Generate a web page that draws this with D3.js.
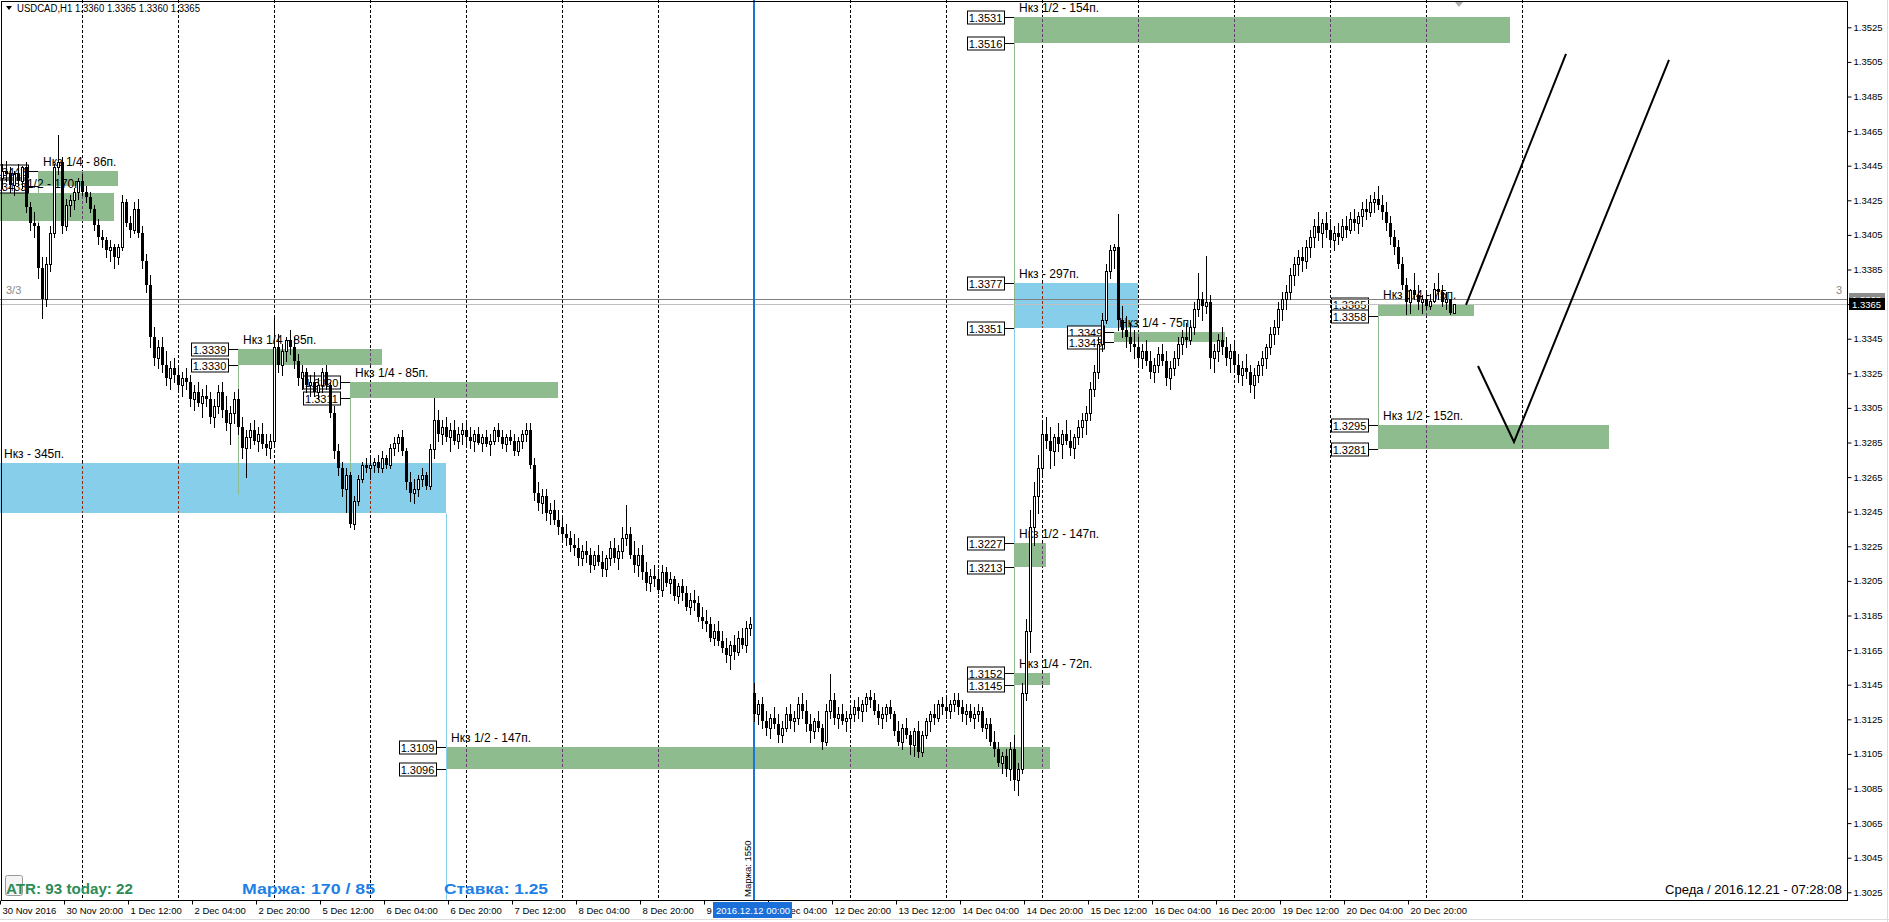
<!DOCTYPE html>
<html><head><meta charset="utf-8">
<script src="https://cdn.jsdelivr.net/npm/d3@7/dist/d3.min.js"></script>
<style>
body{margin:0;background:#fff;overflow:hidden}
svg{display:block}
text{font-family:"Liberation Sans",Arial,sans-serif}
</style></head>
<body><svg id="c" width="1889" height="922"></svg>
<script>
// ---------------- DATA ----------------
// hourly candles, USDCAD H1, values are pips above 1.3000: [open, high, low, close]
const day30Nov = [[438,446,432,442],[442,448,436,440],[440,444,430,434],[434,442,428,440],[440,446,434,436],[436,445,432,444],[444,447,418,421],[421,424,408,412],[412,418,404,410],[410,412,380,386],[386,392,357,368],[368,392,364,388],[388,410,384,406],[406,446,404,444],[444,463,440,447],[447,450,406,410],[410,426,408,422],[422,428,416,425],[425,432,420,430],[430,438,426,436]];
const day01Dec = [[436,440,428,430],[430,433,424,427],[427,430,418,420],[420,422,408,411],[411,414,400,404],[404,408,398,402],[402,404,392,396],[396,402,390,398],[398,400,386,392],[392,400,388,398],[398,428,396,424],[424,426,410,412],[412,416,404,408],[408,424,406,420],[420,426,404,406],[406,410,386,390],[390,394,372,376],[376,382,340,346],[346,352,330,334],[334,344,328,340],[340,346,326,330],[330,338,318,322],[322,332,316,328],[328,334,320,324]];
const day02Dec = [[324,330,314,318],[318,326,312,322],[322,328,316,320],[320,324,306,310],[310,318,304,314],[314,320,306,308],[308,316,300,312],[312,318,306,310],[310,314,296,300],[300,310,294,306],[306,318,302,314],[314,320,300,304],[304,312,292,296],[296,306,284,302],[302,314,296,310],[310,316,290,294],[294,300,276,282],[282,292,265,288],[288,296,282,292],[292,298,284,286],[286,294,280,290],[290,296,282,284],[284,290,278,282],[282,290,276,286]];
const day05Dec = [[286,357,284,340],[340,348,326,330],[330,342,324,338],[338,346,332,344],[344,350,336,340],[340,346,328,332],[332,336,318,322],[322,330,316,326],[326,328,314,318],[318,324,312,320],[320,326,312,314],[314,322,310,318],[318,328,314,326],[326,330,316,318],[318,320,300,302],[302,306,276,280],[280,284,266,270],[270,274,254,258],[258,270,245,266],[266,268,236,238],[238,254,235,251],[251,266,249,264],[264,274,262,272],[272,276,268,270]];
const day06Dec = [[270,276,264,272],[272,276,268,274],[274,278,268,270],[270,280,268,276],[276,278,270,272],[272,284,270,282],[282,288,278,285],[285,290,280,288],[288,292,278,280],[280,282,258,262],[262,268,251,256],[256,264,250,258],[258,266,254,264],[264,270,260,266],[266,268,258,260],[260,284,258,281],[281,311,276,298],[298,304,286,290],[290,298,284,294],[294,300,286,288],[288,296,280,292],[292,298,284,286],[286,294,282,290],[290,296,284,292]];
const day07Dec = [[292,296,284,288],[288,294,282,286],[286,292,280,290],[290,294,284,285],[285,290,280,288],[288,292,283,284],[284,290,278,286],[286,294,284,292],[292,296,286,288],[288,292,282,284],[284,290,280,288],[288,292,284,286],[286,290,278,280],[280,288,278,286],[286,292,282,290],[290,296,286,292],[292,296,270,272],[272,276,252,256],[256,262,246,250],[250,258,244,254],[254,258,240,244],[244,250,238,246],[246,252,238,240],[240,246,232,236]];
const day08Dec = [[236,242,228,232],[232,238,226,230],[230,234,222,226],[226,232,220,224],[224,230,214,218],[218,226,214,222],[222,228,216,220],[220,224,210,214],[214,222,212,220],[220,226,214,216],[216,222,208,212],[212,220,208,218],[218,228,214,224],[224,230,216,218],[218,226,212,222],[222,236,218,230],[230,249,226,232],[232,236,218,220],[220,228,210,214],[214,224,208,220],[220,226,206,210],[210,216,200,204],[204,212,199,208],[208,214,202,206]];
const day09Dec = [[206,212,198,200],[200,214,196,210],[210,213,202,204],[204,210,198,206],[206,208,194,196],[196,204,192,202],[202,206,194,198],[198,202,188,190],[190,198,186,194],[194,200,188,192],[192,196,182,184],[184,190,178,182],[182,188,176,180],[180,184,170,172],[172,180,168,176],[176,182,168,170],[170,176,164,166],[166,172,158,162],[162,170,154,168],[168,174,160,164],[164,176,162,172],[172,178,166,168],[168,182,164,178],[178,184,174,180]];
const day12Dec = [[140,146,124,128],[128,136,122,134],[134,138,120,124],[124,130,116,120],[120,128,114,126],[126,132,120,122],[122,128,112,116],[116,124,112,120],[120,132,118,128],[128,134,120,124],[124,130,118,126],[126,138,122,134],[134,140,126,130],[130,136,118,122],[122,128,112,118],[118,126,114,124],[124,130,118,120],[120,122,108,112],[112,134,110,130],[130,151,126,136],[136,140,122,126],[126,132,120,128],[128,134,122,124],[124,130,118,126]];
const day13Dec = [[126,132,120,128],[128,136,124,132],[132,138,126,130],[130,136,124,134],[134,140,130,138],[138,142,132,136],[136,140,128,130],[130,134,122,126],[126,132,120,128],[128,134,124,132],[132,136,126,128],[128,130,116,118],[118,124,110,112],[112,122,108,120],[120,126,114,116],[116,118,105,110],[110,120,104,118],[118,124,103,106],[106,118,104,116],[116,126,114,124],[124,130,118,128],[128,134,122,126],[126,136,124,134],[134,138,128,132]];
const day14Dec = [[132,138,126,130],[130,136,126,134],[134,140,130,136],[136,140,128,132],[132,136,124,128],[128,134,122,130],[130,134,124,126],[126,132,120,128],[128,134,124,130],[130,132,118,120],[120,126,114,122],[122,126,110,112],[112,118,104,108],[108,112,98,100],[100,106,94,104],[104,108,92,96],[96,112,90,108],[108,116,84,90],[90,100,81,96],[96,146,94,140],[140,183,136,176],[176,246,164,236],[236,262,226,254],[254,278,244,270]];
const day15Dec = [[270,296,266,290],[290,300,282,286],[286,294,270,280],[280,290,272,288],[288,296,280,284],[284,292,276,290],[290,298,284,286],[286,292,278,282],[282,290,276,288],[288,298,284,294],[294,302,288,298],[298,306,290,302],[302,320,298,316],[316,330,312,326],[326,346,322,342],[342,360,338,356],[356,388,354,384],[384,399,380,396],[396,400,386,398],[398,417,350,356],[356,364,346,350],[350,358,340,346],[346,354,338,342],[342,350,334,340]];
const day16Dec = [[340,346,330,334],[334,342,328,338],[338,344,330,332],[332,338,322,326],[326,334,320,330],[330,340,326,336],[336,342,330,332],[332,338,318,322],[322,332,316,328],[328,338,324,334],[334,346,330,342],[342,350,336,346],[346,354,340,344],[344,356,342,352],[352,366,348,362],[362,383,358,368],[368,372,356,364],[364,393,360,366],[366,370,328,334],[334,342,326,338],[338,348,332,344],[344,352,336,340],[340,346,330,334],[334,342,326,338]];
const day19Dec = [[338,344,326,330],[330,336,320,324],[324,332,318,328],[328,336,322,326],[326,330,314,318],[318,328,311,324],[324,332,320,330],[330,338,324,334],[334,342,328,340],[340,352,336,348],[348,356,342,352],[352,366,348,362],[362,372,356,368],[368,376,362,372],[372,386,368,382],[382,392,376,388],[388,396,382,392],[392,398,384,390],[390,402,386,398],[398,408,392,404],[404,414,398,410],[410,418,402,406],[406,414,398,412],[412,418,404,408]];
const day20Dec = [[408,414,398,402],[402,410,396,406],[406,412,400,404],[404,414,402,410],[410,416,404,408],[408,418,406,414],[414,420,408,412],[412,418,406,416],[416,424,410,420],[420,426,414,418],[418,428,416,424],[424,430,418,426],[426,433,420,422],[422,428,414,418],[418,424,408,412],[412,416,400,404],[404,408,394,398],[398,402,386,388],[388,392,374,376],[376,380,359,366],[366,374,360,373],[373,383,368,370],[370,376,362,366],[366,370,360,368]];
const day21Dec = [[368,372,362,364],[364,371,362,367],[367,377,366,374],[374,383,368,372],[372,376,364,366],[366,372,362,368],[368,368,359,360],[360,365,360,365]];

const xTickBars   = [0,16,32,48,64,80,96,112,128,144,160,176,192,208,224,240,256,272,288,304,320,336,352];
const xTickLabels = ["30 Nov 2016","30 Nov 20:00","1 Dec 12:00","2 Dec 04:00","2 Dec 20:00","5 Dec 12:00","6 Dec 04:00","6 Dec 20:00","7 Dec 12:00","8 Dec 04:00","8 Dec 20:00","9 Dec 12:00","12 Dec 04:00","12 Dec 20:00","13 Dec 12:00","14 Dec 04:00","14 Dec 20:00","15 Dec 12:00","16 Dec 04:00","16 Dec 20:00","19 Dec 12:00","20 Dec 04:00","20 Dec 20:00"];
const daySeparatorBars = [20,44,68,92,116,140,164,212,236,260,284,308,332,356,380];
const yTicks = [1.3025,1.3045,1.3065,1.3085,1.3105,1.3125,1.3145,1.3165,1.3185,1.3205,1.3225,1.3245,1.3265,1.3285,1.3305,1.3325,1.3345,1.3365,1.3385,1.3405,1.3425,1.3445,1.3465,1.3485,1.3505,1.3525];

// target zones: time span in bars, upper/lower price
const zoneFrom  = [9.5, -0.25, 59.5, 87.5, -0.25, 111.5, 253.5, 253.5, 278.5, 253.5, 253.5, 344.5, 344.5];
const zoneTo    = [29.5, 28.5, 95.5, 139.5, 111.5, 262.5, 377.5, 284.5, 306.25, 261.5, 262.5, 368.5, 402.25];
const zoneHigh  = [1.3442,1.3429,1.3339,1.3320,1.3273,1.3109,1.3531,1.3377,1.3349,1.3227,1.3152,1.3365,1.3295];
const zoneLow   = [1.3433,1.3413,1.3330,1.3311,1.3244,1.3096,1.3516,1.3351,1.3343,1.3213,1.3145,1.3358,1.3281];
const zoneType  = ["part","part","part","part","full","part","part","full","part","part","part","part","part"];
const zoneText  = ["Нкз 1/4 - 86п.","Нкз 1/2 - 170п.","Нкз 1/4 - 85п.","Нкз 1/4 - 85п.","Нкз - 345п.","Нкз 1/2 - 147п.","Нкз 1/2 - 154п.","Нкз - 297п.","Нкз 1/4 - 75п.","Нкз 1/2 - 147п.","Нкз 1/4 - 72п.","Нкз 1/4 - 75п.","Нкз 1/2 - 152п."];

// vertical connector lines [bar, fromPrice, toPrice, type]
const linkBar  = [9.5, 59.5, 87.5, 111.5, 253.5, 253.5, 344.5];
const linkFrom = [1.3433, 1.3330, 1.3311, 1.3244, 1.3516, 1.3351, 1.3358];
const linkTo   = [1.3400, 1.3255, 1.3250, 1.3020, 1.3096, 1.3227, 1.3281];
const linkType = ["part","part","part","full","part","full","part"];

// hand-drawn projection lines (bar, price)
const path1 = [[366.5,1.33645],[391.5,1.35096]];
const path2 = [[369.5,1.33292],[378.5,1.32853],[417.25,1.35061]];

const bid = 1.3365, ask = 1.3368;
const marginBar = 188;

// ---------------- DRAW ----------------
const candles = [].concat(day30Nov,day01Dec,day02Dec,day05Dec,day06Dec,day07Dec,day08Dec,day09Dec,day12Dec,day13Dec,day14Dec,day15Dec,day16Dec,day19Dec,day20Dec,day21Dec);
const P = v => 1.3 + v/10000;

const W = 1847, H = 900;
const x = d3.scaleLinear().domain([0,1]).range([0,4]);
const y = d3.scaleLinear().domain([1.3025,1.3525]).range([892.3,27.3]);
const svg = d3.select("#c");
svg.append("rect").attr("width",1889).attr("height",922).attr("fill","#fff");
svg.append("defs").append("clipPath").attr("id","pc").append("rect").attr("x",0).attr("y",0).attr("width",W).attr("height",H);
const plot = svg.append("g").attr("clip-path","url(#pc)");

const colors = {part:"#8FBC8F", full:"#87CEEB"};
const tint = {part:"#6a3a74", full:"#8b2c10"};
const sepX = b => Math.round(x(b)) + 2;

// day separators
daySeparatorBars.forEach(b=>{
  plot.append("line").attr("x1",sepX(b)+0.5).attr("x2",sepX(b)+0.5).attr("y1",0).attr("y2",H)
   .attr("stroke","#000").attr("stroke-dasharray","3,2");
});

// zones
zoneFrom.forEach((b0,i)=>{
  const x0 = Math.round(x(b0)), x1 = Math.round(x(zoneTo[i]));
  const y0 = Math.round(y(zoneHigh[i])), y1 = Math.round(y(zoneLow[i]));
  plot.append("rect").attr("x",x0).attr("y",y0).attr("width",x1-x0).attr("height",y1-y0).attr("fill",colors[zoneType[i]]);
  daySeparatorBars.forEach(b=>{
    const sx = sepX(b);
    if (sx>x0 && sx<x1) plot.append("line").attr("x1",sx+0.5).attr("x2",sx+0.5).attr("y1",y0).attr("y2",y1)
      .attr("stroke",tint[zoneType[i]]).attr("stroke-dasharray","3,2").attr("stroke-dashoffset",-(y0%5));
  });
});

// connectors
linkBar.forEach((b,i)=>{
  const lx = Math.round(x(b))+0.5;
  plot.append("line").attr("x1",lx).attr("x2",lx).attr("y1",y(linkFrom[i])).attr("y2",y(linkTo[i]))
   .attr("stroke",colors[linkType[i]]).attr("stroke-width",1);
});

// zone labels
zoneFrom.forEach((b0,i)=>{
  plot.append("text").attr("x",Math.round(x(b0))+5).attr("y",Math.round(y(zoneHigh[i]))-5)
   .attr("font-size",12).attr("fill","#000").text(zoneText[i]);
});

// price boxes
const fmt = d3.format(".4f");
zoneFrom.forEach((b0,i)=>{
  if (zoneType[i]==="full" && b0<0) return;
  const xr = Math.round(x(b0)) - 10;
  [zoneHigh[i], zoneLow[i]].forEach(p=>{
    const yy = Math.round(y(p))+0.5;
    plot.append("line").attr("x1",xr).attr("x2",Math.round(x(b0))).attr("y1",yy).attr("y2",yy).attr("stroke","#000");
    plot.append("rect").attr("x",xr-37+0.5).attr("y",yy-6.5).attr("width",37).attr("height",13)
      .attr("fill","#fff").attr("stroke","#000");
    plot.append("text").attr("x",xr-18.5).attr("y",yy+4).attr("text-anchor","middle")
      .attr("font-size",11).text(fmt(p));
  });
});

// ask / bid lines
plot.append("line").attr("x1",0).attr("x2",W).attr("y1",Math.round(y(ask))+0.5).attr("y2",Math.round(y(ask))+0.5).attr("stroke","#808080");
plot.append("line").attr("x1",0).attr("x2",W).attr("y1",Math.round(y(bid))+0.5).attr("y2",Math.round(y(bid))+0.5).attr("stroke","#c0c0c0");

// margin vertical line
const mx = sepX(marginBar);
plot.append("line").attr("x1",mx).attr("x2",mx).attr("y1",0).attr("y2",H).attr("stroke","#1c74d6").attr("stroke-width",2);
plot.append("text").attr("transform",`translate(${mx-3},897) rotate(-90)`).attr("font-size",9.5).text("Маржа: 1550");

// candles
const cg = plot.append("g").attr("shape-rendering","crispEdges");
candles.forEach((d,i)=>{
  const [o,h,l,c] = d.map(P);
  const cx = Math.round(x(i)) + 2;
  cg.append("line").attr("x1",cx+0.5).attr("x2",cx+0.5).attr("y1",Math.round(y(h))).attr("y2",Math.round(y(l))+1).attr("stroke","#000");
  const t = Math.round(y(Math.max(o,c))), b = Math.round(y(Math.min(o,c)));
  if (c>o) {
    cg.append("rect").attr("x",cx-0.5).attr("y",t+0.5).attr("width",2).attr("height",Math.max(b-t,1)).attr("fill","#fff").attr("stroke","#000");
  } else {
    cg.append("rect").attr("x",cx-1).attr("y",t).attr("width",3).attr("height",Math.max(b-t,1)).attr("fill","#000");
  }
});

// projection lines
const line = d3.line().x(d=>x(d[0])).y(d=>y(d[1]));
plot.append("path").attr("d",line(path1)).attr("fill","none").attr("stroke","#000").attr("stroke-width",2);
plot.append("path").attr("d",line(path2)).attr("fill","none").attr("stroke","#000").attr("stroke-width",2);

// texts inside plot
plot.append("text").attr("x",6).attr("y",294).attr("font-size",11).attr("fill","#8a8a8a").text("3/3");
plot.append("text").attr("x",1836).attr("y",294).attr("font-size",11).attr("fill","#8a8a8a").text("3");
plot.append("path").attr("d","M6,6 L12,6 L9,10 Z").attr("fill","#000");
plot.append("text").attr("x",17).attr("y",12).attr("font-size",10).attr("textLength",183).attr("lengthAdjust","spacingAndGlyphs")
  .text("USDCAD,H1  1.3360 1.3365 1.3360 1.3365");
plot.append("path").attr("d","M1454,1 L1464,1 L1459,7 Z").attr("fill","#b0b0b0");
plot.append("rect").attr("x",5.5).attr("y",875.5).attr("width",17).attr("height",20).attr("rx",2).attr("fill","#f4f4f4").attr("stroke","#9a9a9a");
plot.append("text").attr("x",6).attr("y",894).attr("font-size",14).attr("font-weight","bold").attr("fill","#2e8b57")
  .attr("textLength",127).attr("lengthAdjust","spacingAndGlyphs").text("ATR: 93  today: 22");
plot.append("text").attr("x",242).attr("y",894).attr("font-size",14).attr("font-weight","bold").attr("fill","#1e7fe6")
  .attr("textLength",133).attr("lengthAdjust","spacingAndGlyphs").text("Маржа: 170 / 85");
plot.append("text").attr("x",444).attr("y",894).attr("font-size",14).attr("font-weight","bold").attr("fill","#1e7fe6")
  .attr("textLength",104).attr("lengthAdjust","spacingAndGlyphs").text("Ставка: 1.25");
plot.append("text").attr("x",1665).attr("y",894).attr("font-size",12.5).attr("fill","#000")
  .attr("textLength",177).attr("lengthAdjust","spacingAndGlyphs").text("Среда  /  2016.12.21  -  07:28:08");

// frame
svg.append("rect").attr("x",1.5).attr("y",1.5).attr("width",W-1).attr("height",H-1).attr("fill","none").attr("stroke","#000");

// right axis
const ya = svg.append("g").attr("transform",`translate(${W+0.5},0)`)
  .call(d3.axisRight(y).tickValues(yTicks).tickSize(4).tickFormat(fmt));
ya.select(".domain").remove();
ya.selectAll("text").attr("font-family","Liberation Sans, Arial").attr("font-size",9.5).attr("fill","#000").attr("x",6);
ya.selectAll("line").attr("stroke","#000");

// current price boxes
[[ask,"#8c8c8c"],[bid,"#000"]].forEach(([p,col])=>{
  const yy = Math.round(y(p));
  svg.append("rect").attr("x",W+2).attr("y",yy-6).attr("width",36).attr("height",12).attr("fill",col);
  svg.append("text").attr("x",W+5).attr("y",yy+4).attr("font-size",9.5).attr("fill","#fff").text(fmt(p));
});

// bottom axis
const xa = svg.append("g").attr("transform",`translate(0,${H+0.5})`)
  .call(d3.axisBottom(x).tickValues(xTickBars).tickSize(4).tickFormat((d,i)=>xTickLabels[i]));
xa.select(".domain").remove();
xa.selectAll("text").attr("font-family","Liberation Sans, Arial").attr("font-size",9.5).attr("fill","#000")
  .attr("text-anchor","start").attr("x",2).attr("y",7).attr("dy","0.71em");
xa.selectAll("line").attr("stroke","#000");
// highlighted date under margin line
svg.append("rect").attr("x",mx-41).attr("y",902).attr("width",79).attr("height",16).attr("fill","#1a6fd9");
svg.append("text").attr("x",mx-38).attr("y",914).attr("font-size",9.5).attr("fill","#fff").text("2016.12.12 00:00");

// outer light borders
svg.append("line").attr("x1",0).attr("x2",1889).attr("y1",919.5).attr("y2",919.5).attr("stroke","#dcdcdc");
svg.append("line").attr("x1",1887.5).attr("x2",1887.5).attr("y1",0).attr("y2",922).attr("stroke","#dcdcdc");
</script></body></html>
